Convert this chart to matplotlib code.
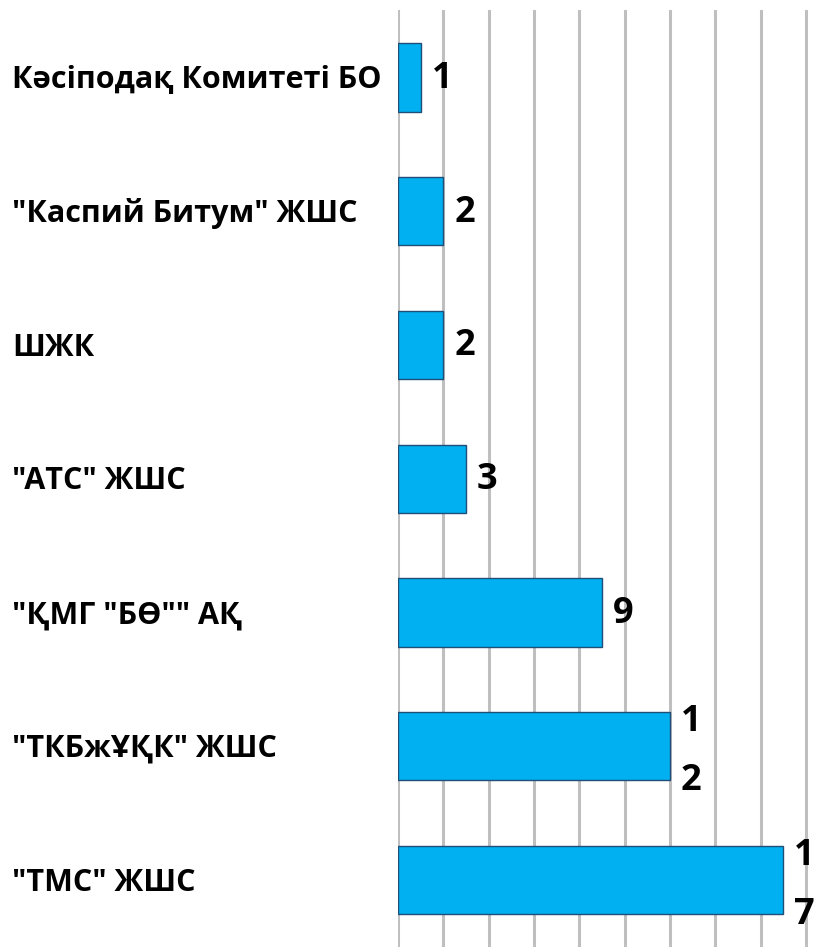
import matplotlib
matplotlib.use("Agg")
import matplotlib.pyplot as plt
import matplotlib.transforms as mtransforms

categories = ['Кәсіподақ Комитеті БО', '"Каспий Битум" ЖШС', 'ШЖК', '"АТС" ЖШС',
              '"ҚМГ "БӨ"" АҚ', '"ТКБжҰҚК" ЖШС', '"ТМС" ЖШС']
values = [1, 2, 2, 3, 9, 12, 17]
x_ticks = list(range(0, 19, 2))

FONT = ['Open Sans', 'DejaVu Sans']

fig = plt.figure(figsize=(8.17, 9.47), dpi=100)
ax = fig.add_axes([398/817, 0.0, 1 - 398/817, 1 - 10.5/947])

ypos = list(range(len(categories)))
ax.barh(ypos, values, height=0.51, color='#00B0F0', edgecolor='#1F4E79',
        linewidth=1.0, zorder=3)
ax.set_ylim(len(categories) - 0.5, -0.5)
ax.set_xlim(0, 419/22.67)
ax.set_xticks(x_ticks)
ax.grid(axis='x', color='#BFBFBF', linewidth=2.2, zorder=0)
ax.grid(axis='y', visible=False)
for s in ax.spines.values():
    s.set_visible(False)
ax.tick_params(left=False, bottom=False, labelleft=False, labelbottom=False)

trans = mtransforms.blended_transform_factory(fig.transFigure, ax.transData)
for y, cat in zip(ypos, categories):
    ax.text(12/817, y + 0.02, cat, transform=trans, ha='left', va='center',
            fontsize=22, fontweight='bold', family=FONT, color='black')

for y, v in zip(ypos, values):
    s = str(v)
    label = '\n'.join(s) if v >= 10 else s
    ax.text(v + 0.48, y + (0.04 if v >= 10 else 0.01), label, ha='left',
            va='center', fontsize=26, fontweight='bold', family=FONT,
            color='black', linespacing=1.87, clip_on=False)

fig.savefig('out.png', dpi=100)
